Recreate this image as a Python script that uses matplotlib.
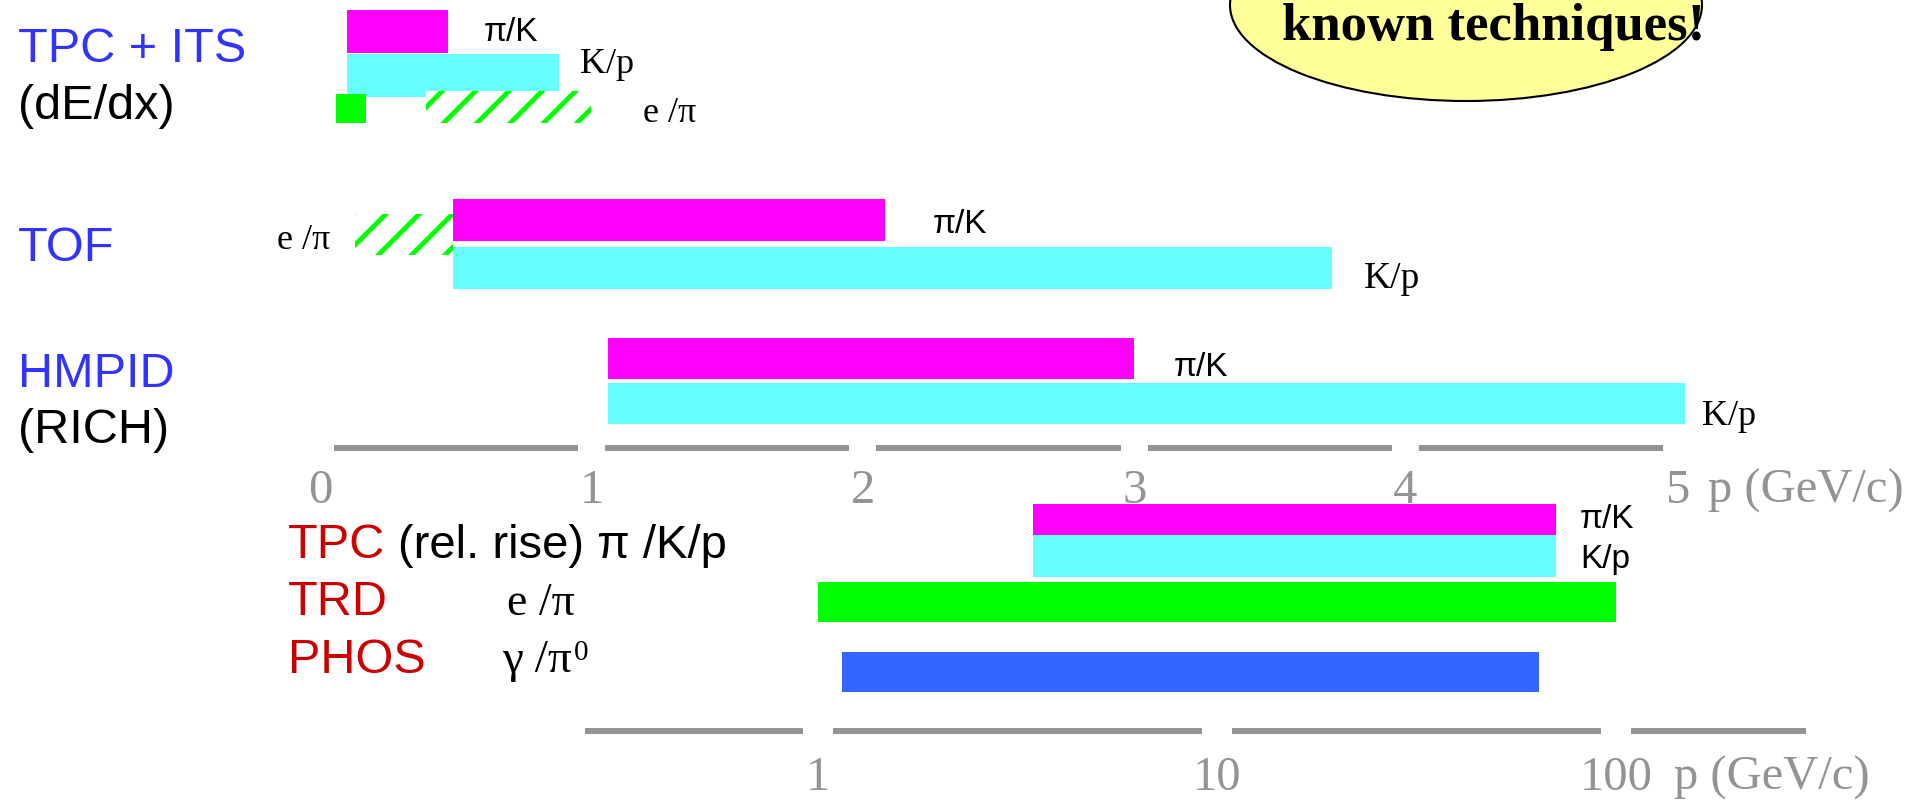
import matplotlib
matplotlib.use("Agg")
import matplotlib.pyplot as plt
from matplotlib.patches import Ellipse
import numpy as np

plt.rcParams['hatch.linewidth'] = 3.5
plt.rcParams['hatch.color'] = '#00ff00'

# momentum ranges (GeV/c) covered by each detector, (start, end)
# upper panel - linear p scale
tpcits_pik = (0.10, 0.47)
tpcits_kp = (0.10, 0.88)
tpcits_epi = (0.06, 0.17)
tpcits_epi_hatch = (0.39, 1.00)
tof_epi_hatch = (0.13, 0.49)
tof_pik = (0.49, 2.08)
tof_kp = (0.49, 3.73)
hmpid_pik = (1.06, 3.00)
hmpid_kp = (1.06, 5.03)

# lower panel - log p scale
tpc_rr_pik = (3.45, 70.7)
tpc_rr_kp = (3.45, 70.7)
trd_epi = (1.0, 100.0)
phos_gpi0 = (1.15, 64.0)

lin_ticks = [0, 1, 2, 3, 4, 5]
log_ticks = [1, 10, 100]
log_edges = [0.26, 1, 10, 100, 300]

MAG, CYAN, GREEN, BLUE = '#ff00ff', '#66ffff', '#00ff00', '#3366ff'
LBLUE, RED, GRAY = '#3333ff', '#cc0000', '#939393'
SANS, SERIF = 'Liberation Sans', 'Liberation Serif'

W, H = 1911, 807
fig = plt.figure(figsize=(W / 100, H / 100), dpi=100)

# canvas for free text / callout (pixel units, y down)
ax0 = fig.add_axes([0, 0, 1, 1])
ax0.set_xlim(0, W)
ax0.set_ylim(H, 0)
ax0.axis('off')

# upper panel: linear momentum axis
ax1 = fig.add_axes([0, 0, 1, 1])
ax1.set_xlim(-320 / 271.4, (W - 320) / 271.4)
ax1.set_ylim(H, 0)
ax1.axis('off')

# lower panel: log momentum axis
ax2 = fig.add_axes([0, 0, 1, 1])
ax2.set_xscale('log')
ax2.set_xlim(10 ** (-818 / 399), 10 ** ((W - 818) / 399))
ax2.set_ylim(H, 0)
ax2.axis('off')


def bar(ax, rng, yc, h, color, hatch=None):
    if hatch:
        ax.barh(yc, rng[1] - rng[0], left=rng[0], height=h, color='white',
                edgecolor=GREEN, hatch=hatch, linewidth=0)
    else:
        ax.barh(yc, rng[1] - rng[0], left=rng[0], height=h, color=color, linewidth=0)


def label(ax, txt, rng, yb, dx, size, fam, ha='left'):
    x = rng[1] if ha == 'left' else rng[0]
    ax.annotate(txt, xy=(x, yb), xytext=(dx, 0), textcoords='offset pixels',
                ha=ha, va='baseline', fontsize=size, family=fam, color='black')


# TPC + ITS
bar(ax1, tpcits_pik, 31.5, 43, MAG)
bar(ax1, tpcits_kp, 75.5, 43, CYAN)
bar(ax1, tpcits_epi, 108.5, 29, GREEN)
bar(ax1, tpcits_epi_hatch, 107, 32, None, hatch='/')
label(ax1, 'π/K', tpcits_pik, 41, 36, 24, SANS)
label(ax1, 'K/p', tpcits_kp, 73, 21, 26, SERIF)
label(ax1, 'e /π', tpcits_epi_hatch, 122, 52, 26, SERIF)

# TOF
bar(ax1, tof_pik, 220, 42, MAG)
bar(ax1, tof_kp, 268, 42, CYAN)
bar(ax1, tof_epi_hatch, 234.5, 41, None, hatch='/')
label(ax1, 'e /π', tof_epi_hatch, 249, -25, 26, SERIF, ha='right')
label(ax1, 'π/K', tof_pik, 233, 48, 24, SANS)
label(ax1, 'K/p', tof_kp, 288, 32, 27, SERIF)

# HMPID
bar(ax1, hmpid_pik, 358.5, 41, MAG)
bar(ax1, hmpid_kp, 403.5, 41, CYAN)
label(ax1, 'π/K', hmpid_pik, 376, 40, 24, SANS)
label(ax1, 'K/p', hmpid_kp, 425, 17, 26, SERIF)

# upper axis: grey dashes between integer ticks
starts = np.array(lin_ticks[:-1]) + 0.05
ends = np.array(lin_ticks[1:]) - 0.05
ax1.hlines(np.full(len(starts), 448), starts, ends, color=GRAY, lw=4.3, capstyle='butt')
for t in lin_ticks:
    ax1.text(t, 503, str(t), ha='center', va='baseline', fontsize=35, family=SERIF, color=GRAY)
ax1.annotate('p (GeV/c)', xy=(lin_ticks[-1], 503), xytext=(31, 0), textcoords='offset pixels',
             ha='left', va='baseline', fontsize=35, family=SERIF, color=GRAY)

# lower panel bars
bar(ax2, tpc_rr_pik, 519.5, 31, MAG)
bar(ax2, tpc_rr_kp, 556, 42, CYAN)
bar(ax2, trd_epi, 602, 40, GREEN)
bar(ax2, phos_gpi0, 672, 40, BLUE)
label(ax2, 'π/K', tpc_rr_pik, 528, 24, 24, SANS)
label(ax2, 'K/p', tpc_rr_kp, 568, 24, 24, SANS)

# lower axis: grey dashes broken at each decade
g = 1.09
lstarts = np.array(log_edges[:-1]) * np.array([1, g, g, g])
lends = np.array(log_edges[1:]) / np.array([g, g, g, 1])
ax2.hlines(np.full(len(lstarts), 731), lstarts, lends, color=GRAY, lw=4.3, capstyle='butt')
for t in log_ticks:
    ax2.text(t, 790, str(t), ha='center', va='baseline', fontsize=35, family=SERIF, color=GRAY)
ax2.annotate('p (GeV/c)', xy=(log_ticks[-1], 790), xytext=(58, 0), textcoords='offset pixels',
             ha='left', va='baseline', fontsize=35, family=SERIF, color=GRAY)

# detector names
kw = dict(va='baseline', ha='left', fontsize=35, family=SANS)
ax0.text(18, 62, 'TPC + ITS', color=LBLUE, **kw)
ax0.text(18, 119, '(dE/dx)', color='black', **kw)
ax0.text(18, 261, 'TOF', color=LBLUE, **kw)
ax0.text(18, 387, 'HMPID', color=LBLUE, **kw)
ax0.text(18, 443, '(RICH)', color='black', **kw)
ax0.text(288, 558, 'TPC', color=RED, **kw)
ax0.text(398, 558, '(rel. rise) π /K/p', color='black', va='baseline', ha='left',
         fontsize=34, family=SANS)
ax0.text(288, 615, 'TRD', color=RED, **kw)
ax0.text(288, 673, 'PHOS', color=RED, **kw)
ax0.text(507, 615, 'e /π', va='baseline', ha='left', fontsize=33, family=SERIF)
ax0.text(502, 672, 'γ /π', va='baseline', ha='left', fontsize=34, family=SERIF)
ax0.text(574, 660, '0', va='baseline', ha='left', fontsize=21, family=SERIF)

# yellow callout (cut by the top edge)
ax0.add_patch(Ellipse((1466, 5), 472, 192, facecolor='#ffff99', edgecolor='none', zorder=1))
ax0.text(1282, 40, 'known techniques!', ha='left', va='baseline', fontsize=38,
         family=SERIF, fontweight='bold', zorder=2)
ax0.add_patch(Ellipse((1466, 5), 472, 192, facecolor='none', edgecolor='black', lw=1.5, zorder=3))

fig.savefig('out.png', dpi=100)
